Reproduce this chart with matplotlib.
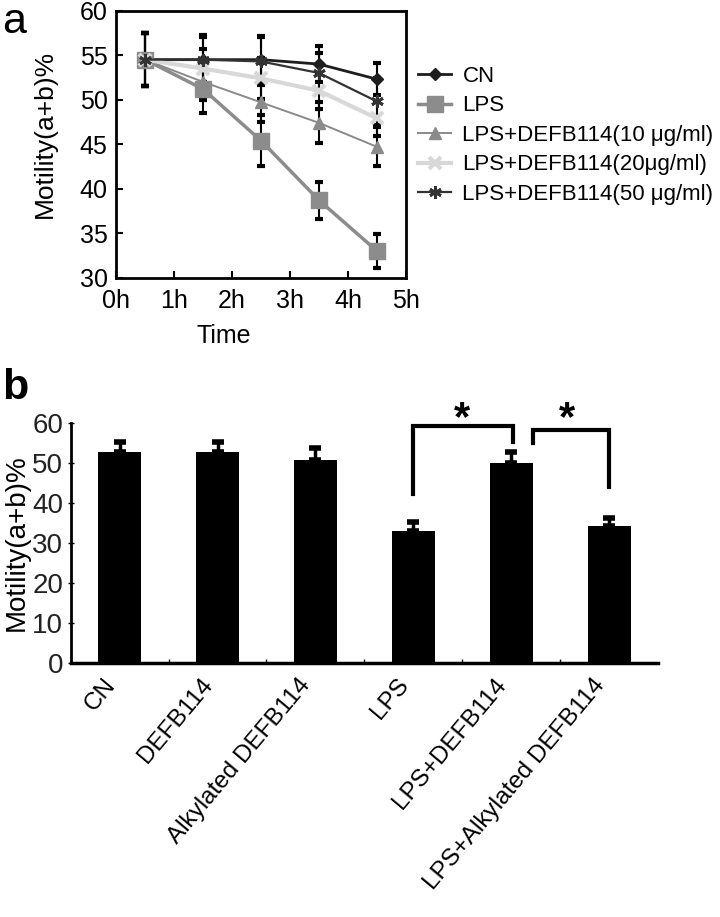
import matplotlib
matplotlib.use("Agg")
import matplotlib.pyplot as plt
import numpy as np
from matplotlib import font_manager as fm

plt.rcParams['font.family'] = ['Liberation Sans', 'DejaVu Sans']

# ---------------- Panel a data ----------------
time_labels = ['0h', '1h', '2h', '3h', '4h', '5h']
time_points = [0.5, 1.5, 2.5, 3.5, 4.5]
cn_vals = [54.5, 54.5, 54.5, 54.0, 52.3]
cn_err = [3.0, 2.8, 2.7, 2.0, 1.8]
lps_vals = [54.5, 51.2, 45.4, 38.7, 33.0]
lps_err = [3.0, 2.7, 2.9, 2.1, 1.9]
d10_vals = [54.5, 52.0, 49.7, 47.4, 44.7]
d10_err = [3.0, 2.0, 2.2, 2.3, 2.2]
d20_vals = [54.5, 53.5, 52.4, 51.0, 47.9]
d20_err = [3.0, 2.2, 2.3, 2.0, 2.0]
d50_vals = [54.5, 54.5, 54.3, 53.0, 49.8]
d50_err = [3.0, 2.5, 2.7, 2.2, 2.6]
series_labels = ['CN', 'LPS', 'LPS+DEFB114(10 μg/ml)', 'LPS+DEFB114(20μg/ml)',
                 'LPS+DEFB114(50 μg/ml)']

# ---------------- Panel b data ----------------
groups = ['CN', 'DEFB114', 'Alkylated DEFB114', 'LPS', 'LPS+DEFB114',
          'LPS+Alkylated DEFB114']
bar_vals = [52.7, 52.7, 50.7, 33.1, 49.9, 34.3]
bar_err = [2.5, 2.5, 3.0, 2.2, 2.9, 1.9]

W, H = 720, 917
fig = plt.figure(figsize=(W / 100, H / 100), dpi=100)

def ax_rect(l, t, r, b):
    return [l / W, 1 - b / H, (r - l) / W, (b - t) / H]

# ---------------- Panel a ----------------
ax = fig.add_axes(ax_rect(116, 10.7, 406, 277.7))
styles = [
    dict(color='#1e1e1e', marker='D', ms=6, lw=2.0),
    dict(color='#8c8c8c', marker='s', ms=11, lw=2.5),
    dict(color='#8a8a8a', marker='^', ms=8, lw=1.4),
    dict(color='#d8d8d8', marker='x', ms=8, lw=3.0, mew=3),
    dict(color='#333333', marker=(6, 2, 0), ms=9, lw=1.6, mew=2),
]
vals = [cn_vals, lps_vals, d10_vals, d20_vals, d50_vals]
errs = [cn_err, lps_err, d10_err, d20_err, d50_err]
for v, e in zip(vals, errs):
    ax.errorbar(time_points, v, yerr=e, fmt='none', ecolor='black',
                elinewidth=1.5, capsize=3, capthick=3, zorder=1)
handles = []
for v, st, lab in zip(vals, styles, series_labels):
    h, = ax.plot(time_points, v, label=lab, zorder=3, **st)
    handles.append(h)
ax.set_xlim(0, 5)
ax.set_ylim(30, 60)
ax.set_xticks(range(6))
ax.set_xticklabels(time_labels)
ax.set_yticks([30, 35, 40, 45, 50, 55, 60])
ax.tick_params(direction='in', length=5, width=1.5, labelsize=18)
ax.tick_params(axis='x', pad=8)
ax.tick_params(axis='y', pad=6)
for s in ax.spines.values():
    s.set_linewidth(2)
ax.set_ylabel('Motility(a+b)%', fontsize=19)
ax.yaxis.set_label_coords((57 - 116) / 290, 1 - (134 - 10.7) / 267)
ax.set_xlabel('Time', fontsize=18)
ax.xaxis.set_label_coords((224 - 116) / 290, -0.175)

leg = fig.legend(handles=handles, loc='upper left',
                 bbox_to_anchor=(418 / W, 1 - 66 / H), frameon=False,
                 fontsize=16, handlelength=1.5, handletextpad=0.5,
                 labelspacing=0.38, borderpad=0, borderaxespad=0)

fig.text(2 / W, 1 - 2 / H, 'a', fontsize=31, va='top', ha='left')

# ---------------- Panel b ----------------
bx = fig.add_axes(ax_rect(70.7, 423, 658, 663))
xpos = np.arange(len(groups)) + 0.5
bx.bar(xpos, bar_vals, width=0.44, color='black', zorder=2)
bx.errorbar(xpos, bar_vals, yerr=[np.zeros(len(bar_err)), bar_err], fmt='none',
            ecolor='black', elinewidth=2.5, capsize=4, capthick=4, zorder=1)
bx.set_xlim(0, 6)
bx.set_ylim(0, 60)
bx.spines['top'].set_visible(False)
bx.spines['right'].set_visible(False)
bx.spines['left'].set_linewidth(2)
bx.spines['bottom'].set_linewidth(2.5)
bx.set_xticks(xpos)
bx.set_xticklabels(groups, rotation=50, ha='right', fontsize=17.5)
bx.set_xticks(np.arange(1, 6), minor=True)
bx.tick_params(axis='x', which='major', length=0, pad=8)
bx.tick_params(axis='x', which='minor', direction='in', length=3, width=1)
bx.set_yticks(range(0, 61, 10))
narrow = 'Liberation Sans Narrow'
avail = {f.name for f in fm.fontManager.ttflist}
yfont = narrow if narrow in avail else 'Liberation Sans'
bx.tick_params(axis='y', direction='inout', length=5, width=1, pad=3)
for t in bx.get_yticklabels():
    t.set_fontfamily(yfont)
    t.set_fontsize(20)
    t.set_color('#222222')
bx.set_ylabel('Motility(a+b)%', fontsize=20, labelpad=2)

# significance brackets
def bracket(x1, x2, y1, y2, ytop, star_x, star_y):
    bx.plot([x1, x1, x2, x2], [y1, ytop, ytop, y2], color='black', lw=3,
            clip_on=False, solid_joinstyle='miter')
    bx.text(star_x, star_y, '*', fontsize=30, fontweight='bold', ha='center',
            va='center', clip_on=False)

bracket(3.5, 4.52, 42.3, 55.3, 59.3, 4.0, 61.0)
bracket(4.72, 5.5, 55.1, 44.0, 58.3, 5.07, 61.0)

fig.text(2 / W, 1 - 368 / H, 'b', fontsize=31, fontweight='bold', va='top',
         ha='left')

fig.savefig('out.png', dpi=100)
